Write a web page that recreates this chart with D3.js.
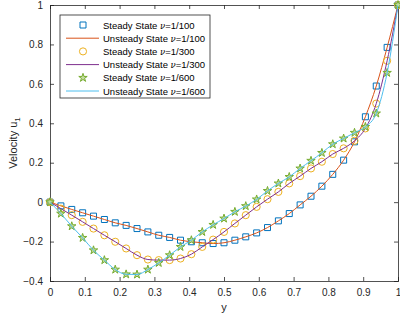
<!DOCTYPE html>
<html>
<head>
<meta charset="utf-8">
<script src="https://cdn.jsdelivr.net/npm/d3@7"></script>
<style>
  body { margin: 0; background: #fff; }
  svg { font-family: "Liberation Sans", Arial, sans-serif; }
</style>
</head>
<body>
<div id="chart"></div>
<script>
// mesh points along y (33 nodes, step 1/32)
const yNodes = d3.range(33).map(i => i / 32);

// velocity u1
const u100 = [0, -0.019, -0.037, -0.054, -0.071, -0.088, -0.105, -0.118, -0.134, -0.151, -0.168,
  -0.179, -0.193, -0.201, -0.206, -0.210, -0.206, -0.193, -0.176, -0.156, -0.129, -0.095,
  -0.058, -0.014, 0.030, 0.081, 0.141, 0.213, 0.306, 0.433, 0.589, 0.785, 1];
const u300 = [0, -0.033, -0.066, -0.100, -0.134, -0.168, -0.201, -0.235, -0.269, -0.291, -0.294,
  -0.294, -0.286, -0.264, -0.227, -0.190, -0.151, -0.108, -0.066, -0.024, 0.015, 0.052,
  0.095, 0.132, 0.171, 0.205, 0.244, 0.273, 0.311, 0.374, 0.500, 0.717, 1];
const u600 = [0, -0.058, -0.122, -0.181, -0.244, -0.294, -0.342, -0.366, -0.367, -0.342, -0.308,
  -0.269, -0.227, -0.193, -0.151, -0.115, -0.083, -0.049, -0.020, 0.014, 0.057, 0.095,
  0.128, 0.171, 0.210, 0.250, 0.294, 0.323, 0.352, 0.382, 0.450, 0.656, 1];

const xTicks = [0, 0.1, 0.2, 0.3, 0.4, 0.5, 0.6, 0.7, 0.8, 0.9, 1];
const yTicks = [-0.4, -0.2, 0, 0.2, 0.4, 0.6, 0.8, 1];

const series = [
  { nu: "1/100", data: u100, marker: "square", mcol: "#0072BD", lcol: "#D95319" },
  { nu: "1/300", data: u300, marker: "circle", mcol: "#EDB120", lcol: "#7E2F8E" },
  { nu: "1/600", data: u600, marker: "star", mcol: "#77AC30", lcol: "#4DBEEE" }
];

const W = 400, H = 323;
const margin = { left: 50, right: 2, top: 5, bottom: 42 };

const svg = d3.select("#chart").append("svg")
  .attr("width", W).attr("height", H);

const x = d3.scaleLinear().domain([0, 1]).range([margin.left, W - margin.right]);
const y = d3.scaleLinear().domain([-0.4, 1]).range([H - margin.bottom, margin.top]);

const axCol = "#262626";

svg.append("defs").append("clipPath").attr("id", "clip")
  .append("rect")
  .attr("x", x(0)).attr("y", y(1))
  .attr("width", x(1) - x(0)).attr("height", y(-0.4) - y(1));

// axes with inward ticks, box on
const gx = svg.append("g").attr("transform", `translate(0,${y(-0.4)})`)
  .call(d3.axisBottom(x).tickValues(xTicks).tickSize(-4).tickPadding(8).tickFormat(d3.format("")));
const gxt = svg.append("g").attr("transform", `translate(0,${y(1)})`)
  .call(d3.axisTop(x).tickValues(xTicks).tickSize(-4).tickFormat(""));
const gy = svg.append("g").attr("transform", `translate(${x(0)},0)`)
  .call(d3.axisLeft(y).tickValues(yTicks).tickSize(-4).tickPadding(7).tickFormat(d3.format("")));
const gyr = svg.append("g").attr("transform", `translate(${x(1)},0)`)
  .call(d3.axisRight(y).tickValues(yTicks).tickSize(-4).tickFormat(""));

[gx, gxt, gy, gyr].forEach(g => {
  g.selectAll("path, line").attr("stroke", axCol).attr("stroke-width", 0.8);
  g.selectAll("text").attr("fill", axCol).style("font-size", "10px")
    .style("font-family", "Liberation Sans, Arial, sans-serif");
});

svg.append("text")
  .attr("x", x(0.5)).attr("y", 311)
  .attr("text-anchor", "middle").attr("fill", axCol).style("font-size", "11px")
  .text("y");

const yl = svg.append("text")
  .attr("transform", `translate(17,${(y(1) + y(-0.4)) / 2}) rotate(-90)`)
  .attr("text-anchor", "middle").attr("fill", axCol).style("font-size", "11px");
yl.append("tspan").text("Velocity u");
yl.append("tspan").attr("dy", 3).style("font-size", "8px").text("1");

const symbolFor = m => m === "square" ? d3.symbolSquare : m === "circle" ? d3.symbolCircle : d3.symbolStar;
const sizeFor = m => m === "square" ? 36 : m === "circle" ? 40 : 22;

const line = d3.line()
  .x((d, i) => x(yNodes[i]))
  .y(d => y(d))
  .curve(d3.curveMonotoneX);

const plot = svg.append("g");

series.forEach(s => {
  // steady state markers
  plot.append("g").selectAll("path")
    .data(s.data)
    .join("path")
    .attr("transform", (d, i) => `translate(${x(yNodes[i])},${y(d)})`)
    .attr("d", d3.symbol().type(symbolFor(s.marker)).size(sizeFor(s.marker)))
    .attr("fill", s.marker === "star" ? "#c3dc9f" : "none")
    .attr("stroke", s.mcol)
    .attr("stroke-width", 1);
  // unsteady state line
  plot.append("path")
    .datum(s.data)
    .attr("clip-path", "url(#clip)")
    .attr("fill", "none")
    .attr("stroke", s.lcol)
    .attr("stroke-width", 1)
    .attr("d", line);
});

// legend
const lg = svg.append("g").attr("transform", "translate(60,15)");
lg.append("rect")
  .attr("width", 150).attr("height", 83)
  .attr("fill", "#fff").attr("stroke", axCol).attr("stroke-width", 0.8);

let row = 0;
series.forEach(s => {
  [0, 1].forEach(k => {
    const cy = 10 + row * 13.2;
    if (k === 0) {
      lg.append("path")
        .attr("transform", `translate(23,${cy})`)
        .attr("d", d3.symbol().type(symbolFor(s.marker)).size(sizeFor(s.marker)))
        .attr("fill", s.marker === "star" ? "#c3dc9f" : "none")
        .attr("stroke", s.mcol).attr("stroke-width", 1);
    } else {
      lg.append("line")
        .attr("x1", 6).attr("x2", 39).attr("y1", cy).attr("y2", cy)
        .attr("stroke", s.lcol).attr("stroke-width", 1);
    }
    const t = lg.append("text")
      .attr("x", 43).attr("y", cy + 3.5)
      .attr("fill", "#000").style("font-size", "9.5px");
    t.append("tspan").text(k === 0 ? "Steady State " : "Unsteady State ");
    t.append("tspan").style("font-family", "DejaVu Serif, serif").style("font-style", "italic")
      .style("font-size", "8.5px").text("\u03BD");
    t.append("tspan").text("=" + s.nu);
    row++;
  });
});
</script>
</body>
</html>
